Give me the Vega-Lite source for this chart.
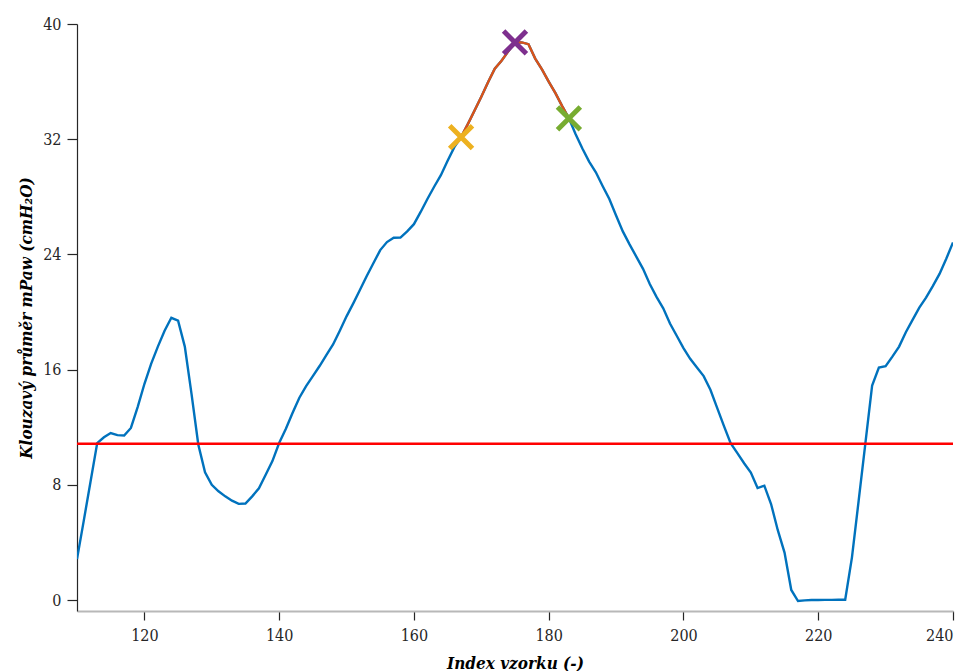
{
  "$schema": "https://vega.github.io/schema/vega-lite/v6.json",
  "width": 876,
  "height": 587,
  "autosize": "none",
  "padding": {"left": 77, "top": 24, "right": 15, "bottom": 60},
  "background": "white",
  "config": {
    "view": {"stroke": null},
    "font": "'DejaVu Serif'"
  },
  "datasets": {
    "curve": [
      {"x":110,"y":2.84},{"x":111,"y":5.5},{"x":112,"y":8.2},{"x":113,"y":10.9},{"x":114,"y":11.3},
      {"x":115,"y":11.6},{"x":116,"y":11.45},{"x":117,"y":11.43},{"x":118,"y":11.95},{"x":119,"y":13.4},
      {"x":120,"y":15.0},{"x":121,"y":16.4},{"x":122,"y":17.6},{"x":123,"y":18.7},{"x":124,"y":19.6},
      {"x":125,"y":19.4},{"x":126,"y":17.6},{"x":127,"y":14.3},{"x":128,"y":10.8},{"x":129,"y":8.87},
      {"x":130,"y":8.0},{"x":131,"y":7.55},{"x":132,"y":7.2},{"x":133,"y":6.9},{"x":134,"y":6.68},
      {"x":135,"y":6.7},{"x":136,"y":7.2},{"x":137,"y":7.76},{"x":138,"y":8.7},{"x":139,"y":9.65},
      {"x":140,"y":10.9},{"x":141,"y":11.9},{"x":142,"y":13.0},{"x":143,"y":14.05},{"x":144,"y":14.85},
      {"x":145,"y":15.55},{"x":146,"y":16.25},{"x":147,"y":17.0},{"x":148,"y":17.75},{"x":149,"y":18.7},
      {"x":150,"y":19.7},{"x":151,"y":20.6},{"x":152,"y":21.55},{"x":153,"y":22.5},{"x":154,"y":23.4},
      {"x":155,"y":24.3},{"x":156,"y":24.86},{"x":157,"y":25.16},{"x":158,"y":25.17},{"x":159,"y":25.6},
      {"x":160,"y":26.1},{"x":161,"y":26.95},{"x":162,"y":27.85},{"x":163,"y":28.7},{"x":164,"y":29.5},
      {"x":165,"y":30.5},{"x":166,"y":31.45},{"x":167,"y":32.15},{"x":168,"y":33.05},{"x":169,"y":34.0},
      {"x":170,"y":34.95},{"x":171,"y":35.95},{"x":172,"y":36.9},{"x":173,"y":37.45},{"x":174,"y":38.1},
      {"x":175,"y":38.72},{"x":176,"y":38.72},{"x":177,"y":38.6},{"x":178,"y":37.6},{"x":179,"y":36.85},
      {"x":180,"y":36.0},{"x":181,"y":35.2},{"x":182,"y":34.3},{"x":183,"y":33.45},{"x":184,"y":32.35},
      {"x":185,"y":31.35},{"x":186,"y":30.45},{"x":187,"y":29.7},{"x":188,"y":28.75},{"x":189,"y":27.85},
      {"x":190,"y":26.7},{"x":191,"y":25.6},{"x":192,"y":24.7},{"x":193,"y":23.85},{"x":194,"y":23.0},
      {"x":195,"y":21.95},{"x":196,"y":21.05},{"x":197,"y":20.26},{"x":198,"y":19.2},{"x":199,"y":18.35},
      {"x":200,"y":17.5},{"x":201,"y":16.75},{"x":202,"y":16.15},{"x":203,"y":15.55},{"x":204,"y":14.6},
      {"x":205,"y":13.35},{"x":206,"y":12.1},{"x":207,"y":10.9},{"x":208,"y":10.2},{"x":209,"y":9.5},
      {"x":210,"y":8.85},{"x":211,"y":7.78},{"x":212,"y":7.94},{"x":213,"y":6.67},{"x":214,"y":4.85},
      {"x":215,"y":3.3},{"x":216,"y":0.7},{"x":217,"y":-0.07},{"x":218,"y":-0.02},{"x":219,"y":0.0},
      {"x":220,"y":0.0},{"x":221,"y":0.01},{"x":222,"y":0.01},{"x":223,"y":0.02},{"x":224,"y":0.02},
      {"x":225,"y":2.95},{"x":226,"y":6.9},{"x":227,"y":10.9},{"x":228,"y":14.9},{"x":229,"y":16.15},
      {"x":230,"y":16.24},{"x":231,"y":16.9},{"x":232,"y":17.6},{"x":233,"y":18.6},{"x":234,"y":19.45},
      {"x":235,"y":20.3},{"x":236,"y":21.0},{"x":237,"y":21.8},{"x":238,"y":22.65},{"x":239,"y":23.7},
      {"x":240,"y":24.83}
    ],
    "markers": [
      {"x":167,"y":32.15,"kind":"start"},
      {"x":175,"y":38.72,"kind":"max"},
      {"x":183,"y":33.45,"kind":"end"}
    ]
  },
  "layer": [
    {
      "data": {"name": "curve"},
      "mark": {"type": "line", "color": "#0072BD", "strokeWidth": 2.4, "clip": true},
      "encoding": {
        "x": {
          "field": "x", "type": "quantitative",
          "scale": {"domain": [110, 240], "nice": false, "zero": false},
          "axis": {
            "values": [120, 140, 160, 180, 200, 220, 240],
            "title": "Index vzorku (-)",
            "titleFont": "'DejaVu Serif Condensed', 'DejaVu Serif'", "titleFontSize": 17, "titleFontWeight": "bold", "titleFontStyle": "italic",
            "titleColor": "#000000", "titleBaseline": "alphabetic", "titleY": 57,
            "labelFont": "'DejaVu Serif Condensed', 'DejaVu Serif'", "labelFontSize": 16, "labelColor": "#262626", "labelPadding": 7,
            "domainColor": "#b8b8b8", "domainWidth": 2,
            "tickColor": "#262626", "tickSize": 9, "tickWidth": 1.2,
            "grid": false
          }
        },
        "y": {
          "field": "y", "type": "quantitative",
          "scale": {"domain": [-0.76, 40], "nice": false, "zero": false},
          "axis": {
            "values": [0, 8, 16, 24, 32, 40],
            "title": "Klouzavý průměr mPaw (cmH₂O)",
            "titleFont": "'DejaVu Serif Condensed', 'DejaVu Serif'", "titleFontSize": 17, "titleFontWeight": "bold", "titleFontStyle": "italic",
            "titleColor": "#000000", "titleBaseline": "alphabetic", "titleX": -46,
            "labelFont": "'DejaVu Serif Condensed', 'DejaVu Serif'", "labelFontSize": 16, "labelColor": "#262626", "labelPadding": 6,
            "domainColor": "#262626", "domainWidth": 1.2,
            "tickColor": "#262626", "tickSize": 10, "tickWidth": 1.2,
            "grid": false
          }
        }
      }
    },
    {
      "data": {"name": "curve"},
      "transform": [{"filter": "datum.x >= 167 && datum.x <= 183"}],
      "mark": {"type": "line", "color": "#D95319", "strokeWidth": 2.4},
      "encoding": {
        "x": {"field": "x", "type": "quantitative"},
        "y": {"field": "y", "type": "quantitative"}
      }
    },
    {
      "data": {"values": [{"level": 10.85}]},
      "mark": {"type": "rule", "color": "#FF0000", "strokeWidth": 2.5},
      "encoding": {
        "y": {"field": "level", "type": "quantitative"}
      }
    },
    {
      "data": {"name": "markers"},
      "mark": {"type": "point", "shape": "M-1,-1L1,1M1,-1L-1,1", "filled": false, "size": 520, "strokeWidth": 5, "opacity": 1},
      "encoding": {
        "x": {"field": "x", "type": "quantitative"},
        "y": {"field": "y", "type": "quantitative"},
        "color": {
          "field": "kind", "type": "nominal",
          "scale": {"domain": ["start", "max", "end"], "range": ["#EDB120", "#7E2F8E", "#77AC30"]},
          "legend": null
        }
      }
    }
  ]
}
